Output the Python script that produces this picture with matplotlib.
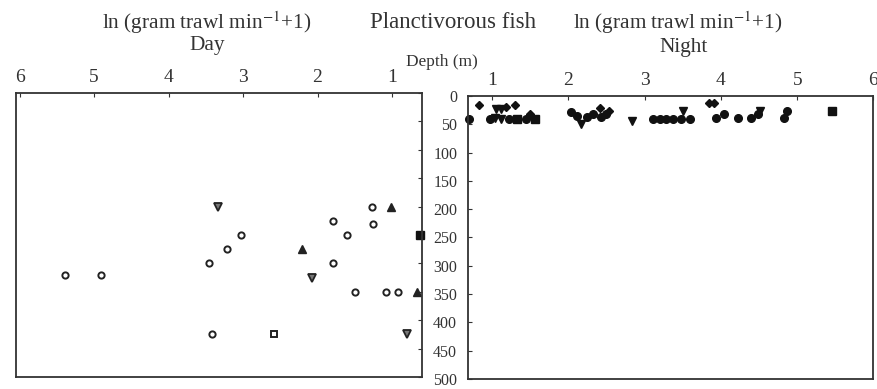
import matplotlib.pyplot as plt

plt.rcParams['font.family'] = ['Liberation Serif', 'DejaVu Serif']
plt.rcParams['mathtext.fontset'] = 'stix'

# Day panel (x = ln(gram trawl min-1 + 1), y = depth in m)
day_circle_x = [5.39, 4.91, 3.03, 3.21, 3.46, 3.42, 1.79, 1.61, 1.79, 1.50, 1.27, 1.25, 1.08, 0.92]
day_circle_d = [320, 320, 250, 275, 300, 425, 225, 250, 300, 350, 200, 230, 350, 350]
day_dtri_x = [3.33, 2.08, 0.80]
day_dtri_d = [200, 325, 425]
day_utri_x = [2.21, 1.01, 0.67]
day_utri_d = [275, 200, 350]
day_sq_x = [2.58]
day_sq_d = [425]
day_sqf_x = [0.62]
day_sqf_d = [250]

# Night panel
night_circle_x = [0.70, 0.97, 1.22, 1.45, 2.04, 2.11, 2.24, 2.32, 2.43, 2.50,
                  3.11, 3.20, 3.28, 3.37, 3.48, 3.59, 3.93, 4.04, 4.23, 4.39, 4.48, 4.83, 4.87]
night_circle_d = [40, 40, 40, 40, 29, 35, 37, 31, 37, 31,
                  41, 41, 41, 41, 41, 41, 38, 32, 39, 39, 32, 38, 26]
night_dtri_x = [1.05, 1.12, 1.04, 1.12, 2.17, 2.84, 3.50, 4.51]
night_dtri_d = [22, 22, 38, 40, 50, 44, 26, 26]
night_diam_x = [0.83, 1.19, 1.30, 1.50, 2.41, 2.54, 3.85, 3.91]
night_diam_d = [15, 20, 16, 32, 21, 26, 12, 13]
night_sq_x = [1.33, 1.56, 5.46]
night_sq_d = [40, 40, 26]

fig = plt.figure(figsize=(8.77, 3.89), dpi=100)
ax1 = fig.add_axes([0.018, 0.031, 0.463, 0.730])
ax2 = fig.add_axes([0.534, 0.026, 0.462, 0.727])

ms = 4.5
ax1.plot(day_circle_x, day_circle_d, 'o', ms=ms, mfc='white', mec='#222222', mew=1.4)
ax1.plot(day_dtri_x, day_dtri_d, 'v', ms=ms + 1, mfc='#777777', mec='#222222', mew=1.3)
ax1.plot(day_utri_x, day_utri_d, '^', ms=ms + 1, color='#222222')
ax1.plot(day_sq_x, day_sq_d, 's', ms=ms, mfc='white', mec='#222222', mew=1.4)
ax1.plot(day_sqf_x, day_sqf_d, 's', ms=ms + 1, color='#111111', clip_on=False)

ax2.plot(night_circle_x, night_circle_d, 'o', ms=ms + 1, color='#111111', clip_on=False)
ax2.plot(night_dtri_x, night_dtri_d, 'v', ms=ms + 1, color='#111111')
ax2.plot(night_diam_x, night_diam_d, 'D', ms=ms, color='#111111')
ax2.plot(night_sq_x, night_sq_d, 's', ms=ms + 1, color='#111111')

ax1.set_xlim(6.05, 0.6)
ax2.set_xlim(0.69, 6.0)
for ax in (ax1, ax2):
    ax.set_ylim(500, 0)
    ax.set_yticks(range(0, 501, 50))
    ax.set_xticks([1, 2, 3, 4, 5, 6])
    for s in ax.spines.values():
        s.set_linewidth(1.3)
        s.set_color('#333333')
    ax.xaxis.tick_top()
    ax.tick_params(axis='x', direction='in', length=3, pad=5, labelsize=14, colors='#333333')

ax1.yaxis.tick_right()
ax1.tick_params(axis='y', direction='in', length=3, labelright=False, colors='#333333')
ax2.tick_params(axis='y', direction='in', length=3, pad=8, labelsize=11.5, colors='#333333')

fig.text(0.236, 0.943, r'ln (gram trawl min$^{-1}$+1)', ha='center', va='center', fontsize=15.3, color='#333333')
fig.text(0.236, 0.884, 'Day', ha='center', va='center', fontsize=15.3, color='#333333')
fig.text(0.517, 0.943, 'Planctivorous fish', ha='center', va='center', fontsize=16.5, color='#333333')
fig.text(0.7725, 0.943, r'ln (gram trawl min$^{-1}$+1)', ha='center', va='center', fontsize=15.3, color='#333333')
fig.text(0.779, 0.879, 'Night', ha='center', va='center', fontsize=15.3, color='#333333')
fig.text(0.504, 0.841, 'Depth (m)', ha='center', va='center', fontsize=12.4, color='#333333')

fig.savefig('out.png', dpi=100)
